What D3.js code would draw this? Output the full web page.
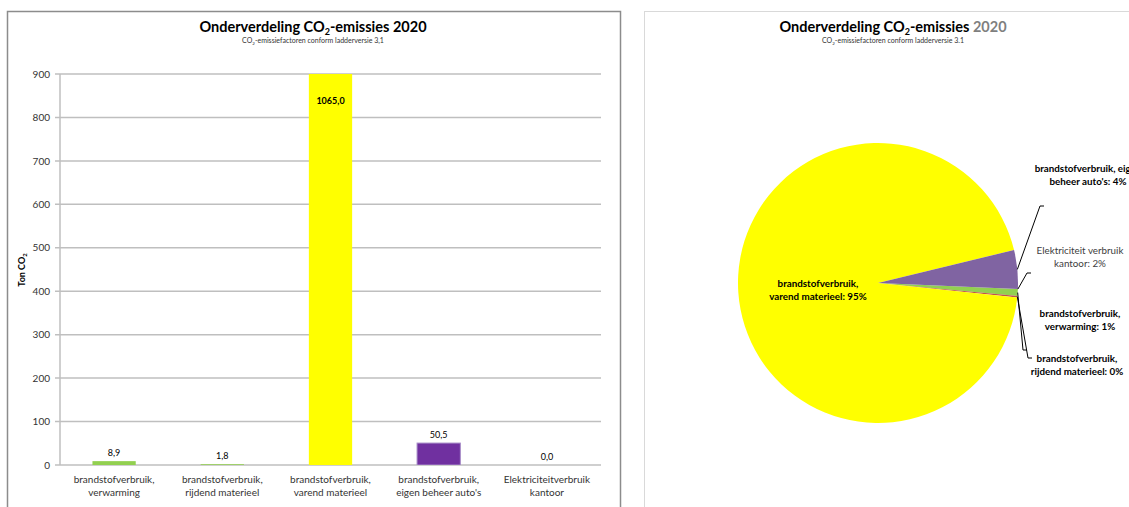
<!DOCTYPE html>
<html>
<head>
<meta charset="utf-8">
<script src="https://cdn.jsdelivr.net/npm/d3@7"></script>
<style>
  body { margin: 0; background: #fff; }
  svg { display: block; font-family: Lato, "Open Sans", sans-serif; }
</style>
</head>
<body>
<svg id="chart" width="1129" height="507"></svg>
<script>
// categories, two lines each
var categories = [
    ['brandstofverbruik,', 'verwarming'],
    ['brandstofverbruik,', 'rijdend materieel'],
    ['brandstofverbruik,', 'varend materieel'],
    ['brandstofverbruik,', "eigen beheer auto's"],
    ['Elektriciteitverbruik', 'kantoor']
];
var values = [8.9, 1.8, 1065.0, 50.5, 0.0];
var yTicks = [0, 100, 200, 300, 400, 500, 600, 700, 800, 900];
var barColors = ['#92d050', '#92d050', '#ffff00', '#7030a0', '#4f81bd'];

// pie labels as printed on the chart
var pieNames = [
    ['brandstofverbruik,', 'verwarming: '],
    ['brandstofverbruik,', 'rijdend materieel: '],
    ['brandstofverbruik,', 'varend materieel: '],
    ['brandstofverbruik, eigen', "beheer auto's: "],
    ['Elektriciteit verbruik', 'kantoor: ']
];
var piePct = [1, 0, 95, 4, 2];
var pieColors = ['#92d050', '#c0504d', '#ffff00', '#8064a2', '#4bacc6'];

var svg = d3.select('#chart');
var fmt = d => d3.format('.1f')(d).replace('.', ',');

// frames
svg.append('rect').attr('x', 7.5).attr('y', 11.5).attr('width', 613).attr('height', 520)
    .attr('fill', 'none').attr('stroke', '#8c8c8c').attr('stroke-width', 1.5);
svg.append('rect').attr('x', 644.5).attr('y', 11.5).attr('width', 520).attr('height', 520)
    .attr('fill', 'none').attr('stroke', '#d9d9d9').attr('stroke-width', 1);

function title(cx, yearColor, sub) {
    var t = svg.append('text').attr('x', cx).attr('y', 32).attr('text-anchor', 'middle')
        .style('font-size', '14.5px').style('font-weight', 'bold').attr('fill', '#000');
    t.append('tspan').text('Onderverdeling CO');
    t.append('tspan').text('2').attr('dy', 3).style('font-size', '9px');
    t.append('tspan').text('-emissies ').attr('dy', -3);
    t.append('tspan').text('2020').attr('fill', yearColor);
    var s = svg.append('text').attr('x', cx).attr('y', 43).attr('text-anchor', 'middle')
        .style('font-size', '7px').attr('fill', '#333');
    s.append('tspan').text('CO');
    s.append('tspan').text('2').attr('dy', 1.5).style('font-size', '4.5px');
    s.append('tspan').text(sub).attr('dy', -1.5);
}
title(313, '#000', '-emissiefactoren conform ladderversie 3,1');
title(893, '#7f7f7f', '-emissiefactoren conform ladderversie 3.1');

// ---- bar chart ----
var x = d3.scaleBand().domain(d3.range(values.length)).range([60, 601]).paddingInner(0.6).paddingOuter(0.3);
var y = d3.scaleLinear().domain([0, 900]).range([465, 74]);

svg.append('g').selectAll('line').data(yTicks).enter().append('line')
    .attr('x1', 55).attr('x2', 601)
    .attr('y1', d => y(d)).attr('y2', d => y(d))
    .attr('stroke', '#bfbfbf').attr('stroke-width', 1.5);
svg.append('line').attr('x1', 60).attr('x2', 60).attr('y1', 74).attr('y2', 465)
    .attr('stroke', '#bfbfbf').attr('stroke-width', 1.5);

var yAxis = svg.append('g').attr('transform', 'translate(60,0)')
    .call(d3.axisLeft(y).tickValues(yTicks).tickSize(0).tickPadding(10));
yAxis.select('.domain').remove();
yAxis.selectAll('text').style('font-size', '10px').attr('fill', '#333').style('font-family', 'Lato, sans-serif');

var yt = svg.append('text').attr('transform', 'translate(25,270) rotate(-90)').attr('text-anchor', 'middle')
    .style('font-size', '9px').style('font-weight', 'bold').attr('fill', '#000');
yt.append('tspan').text('Ton CO');
yt.append('tspan').text('2').attr('dy', 2).style('font-size', '6px');

svg.append('defs').append('clipPath').attr('id', 'plotclip')
    .append('rect').attr('x', 60).attr('y', 74).attr('width', 541).attr('height', 391);

svg.append('g').attr('clip-path', 'url(#plotclip)').selectAll('rect').data(values).enter().append('rect')
    .attr('x', (d, i) => x(i)).attr('width', x.bandwidth())
    .attr('y', d => y(d)).attr('height', d => y(0) - y(d))
    .attr('fill', (d, i) => barColors[i])
    .attr('stroke', (d, i) => i == 3 ? '#a88cc8' : 'none').attr('stroke-width', 1);

svg.append('g').selectAll('text').data(values).enter().append('text')
    .attr('x', (d, i) => x(i) + x.bandwidth() / 2)
    .attr('y', d => d > 900 ? y(900) + 30 : y(d) - 5)
    .attr('text-anchor', 'middle')
    .style('font-size', '9px')
    .style('font-weight', d => d > 900 ? 'bold' : 'normal')
    .attr('fill', '#000')
    .text(d => fmt(d));

var cl = svg.append('g').selectAll('text').data(categories).enter().append('text')
    .attr('text-anchor', 'middle').style('font-size', '10px').attr('fill', '#333');
cl.each(function (d, i) {
    d3.select(this).selectAll('tspan').data(d).enter().append('tspan')
        .attr('x', x(i) + x.bandwidth() / 2)
        .attr('y', (t, j) => 483 + j * 13)
        .text(t => t);
});

// ---- pie chart ----
var cx = 878, cy = 283, r = 140;
var start = 92.5 * Math.PI / 180;
var pie = d3.pie().sort(null).startAngle(start).endAngle(start + 2 * Math.PI);
var arcs = pie(values);
var arc = d3.arc().innerRadius(0).outerRadius(r);
var pg = svg.append('g').attr('transform', 'translate(' + cx + ',' + cy + ')');
pg.selectAll('path').data(arcs).enter().append('path')
    .attr('d', arc)
    .attr('fill', (d, i) => pieColors[i]);

// label layout (absolute positions), elbow points for leader lines
var labelLayout = [
    { x: 1080, y: 317, bold: true, elbow: [1023, 350], end: [1027, 350] },
    { x: 1077, y: 362, bold: true, elbow: [1028, 358], end: [1032, 358] },
    { x: 818, y: 287, bold: true },
    { x: 1088, y: 172, bold: true, elbow: [1040, 206], end: [1044, 206] },
    { x: 1080, y: 254, bold: false, elbow: [1027, 273], end: [1031, 273] }
];

arcs.forEach((a, i) => {
    var L = labelLayout[i];
    if (L.elbow) {
        var mid = (a.startAngle + a.endAngle) / 2;
        var sx = cx + Math.sin(mid) * r, sy = cy - Math.cos(mid) * r;
        svg.append('polyline')
            .attr('points', [[sx, sy], L.elbow, L.end].map(p => p.join(',')).join(' '))
            .attr('fill', 'none').attr('stroke', '#000').attr('stroke-width', 1);
    }
    var t = svg.append('text').attr('text-anchor', 'middle')
        .style('font-size', '9.8px')
        .style('font-weight', L.bold ? 'bold' : 'normal')
        .attr('fill', L.bold ? '#000' : '#404040');
    pieNames[i].forEach((line, j) => {
        t.append('tspan').attr('x', L.x).attr('y', L.y + j * 12.5)
            .text(j == pieNames[i].length - 1 ? line + piePct[i] + '%' : line);
    });
});
</script>
</body>
</html>
